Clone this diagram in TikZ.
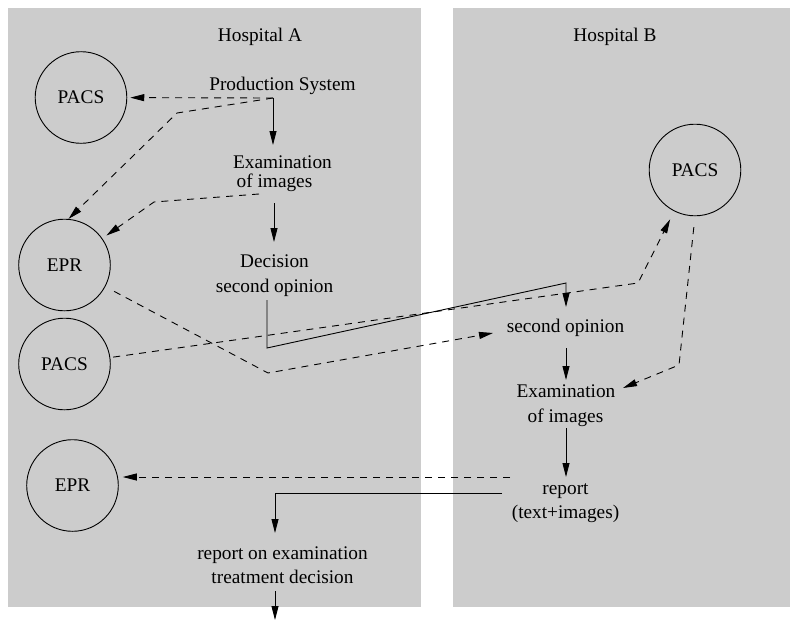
\documentclass[tikz,border=0pt]{standalone}
\usepackage{fontspec}
\setmainfont{Liberation Serif}
\usetikzlibrary{arrows.meta}
\definecolor{panel}{RGB}{204,204,204}
\begin{document}
\begin{tikzpicture}[x=1pt,y=-1pt,
  lbl/.style={font=\fontsize{19.3}{23}\selectfont, inner sep=0pt, anchor=base},
  unit/.style={circle, draw, line width=0.9pt, minimum size=91.6pt, inner sep=0pt, font=\fontsize{19.3}{23}\selectfont},
  plain/.style={line width=0.9pt},
  flow/.style={line width=0.9pt, -{Triangle[length=14pt,width=7pt]}},
  link/.style={flow, dash pattern=on 7pt off 6pt}]
\fill[white] (0,0) rectangle (790,621);
\useasboundingbox (0,0) rectangle (790,621);
\fill[panel] (8,8) rectangle (421,607);
\fill[panel] (453,8) rectangle (790,607);

% titles
\node[lbl] (hosA) at (260,41) {Hospital A};
\node[lbl] (hosB) at (615,41) {Hospital B};

% hospital A texts
\node[lbl] (prod) at (282.5,90) {Production System};
\node[lbl] (examA1) at (282.5,168.5) {Examination};
\node[lbl] (examA2) at (274.5,187) {of images};
\node[lbl] (dec1) at (274.5,267) {Decision};
\node[lbl] (dec2) at (274.5,292) {second opinion};
\node[lbl] (repA1) at (282.5,559) {report on examination};
\node[lbl] (repA2) at (282.5,583) {treatment decision};

% hospital B texts
\node[lbl] (secB) at (565.5,332) {second opinion};
\node[lbl] (examB1) at (566,397) {Examination};
\node[lbl] (examB2) at (565.5,422) {of images};
\node[lbl] (repB1) at (565.5,494) {report};
\node[lbl] (repB2) at (565.5,518) {(text+images)};

% systems
\node[unit] (pacsA1) at (81,97.5) {PACS};
\node[unit] (eprA1) at (64.5,265) {EPR};
\node[unit] (pacsA2) at (64.5,364) {PACS};
\node[unit] (eprA2) at (72.5,485.5) {EPR};
\node[unit] (pacsB) at (695,170) {PACS};

% junction points
\coordinate (psCorner) at (273,98);
\coordinate (psBend) at (177,113);
\coordinate (exAOut) at (259,194);
\coordinate (exABend) at (154,202);
\coordinate (eprBend) at (268,373);
\coordinate (secIn) at (493,333);
\coordinate (pacsBend) at (638,283);
\coordinate (pacsBBend) at (679,365);
\coordinate (exBIn) at (623,388);
\coordinate (repOut) at (510,477);
\coordinate (exAIn) at (273,145);
\coordinate (exADown) at (274,203);
\coordinate (decIn) at (274,242);
\coordinate (decOut) at (267,300);
\coordinate (decCorner) at (267,348);
\coordinate (secCorner) at (566,283);
\coordinate (secTop) at (566,307);
\coordinate (secDown) at (566,348);
\coordinate (exBTop) at (566,380);
\coordinate (exBDown) at (566,428);
\coordinate (repBTop) at (566,477);
\coordinate (repBOut) at (502,493);
\coordinate (repCorner) at (275,493);
\coordinate (repATop) at (275,533);
\coordinate (repADown) at (275,591);
\coordinate (outEnd) at (275,620);

% solid flow
\draw[flow] (psCorner) -- (exAIn);
\draw[flow] (exADown) -- (decIn);
\draw[flow] (decOut) -- (decCorner) -- (secCorner) -- (secTop);
\draw[flow] (secDown) -- (exBTop);
\draw[flow] (exBDown) -- (repBTop);
\draw[flow] (repBOut) -- (repCorner) -- (repATop);
\draw[flow] (repADown) -- (outEnd);

% dashed links
\draw[link, shorten >=3pt] (psCorner) -- (pacsA1);
\draw[link] (psCorner) -- (psBend) -- (eprA1.85);
\draw[link, shorten >=5pt] (exAOut) -- (exABend) -- (eprA1);
\draw[link, shorten <=10pt] (eprA1) -- (eprBend) -- (secIn);
\draw[link, shorten <=3pt, shorten >=9pt] (pacsA2) -- (pacsBend) -- (pacsB);
\draw[link, shorten <=11pt] (pacsB.south) -- (pacsBBend) -- (exBIn);
\draw[link, shorten >=4pt] (repOut) -- (repOut -| eprA2.east);
\end{tikzpicture}
\end{document}
